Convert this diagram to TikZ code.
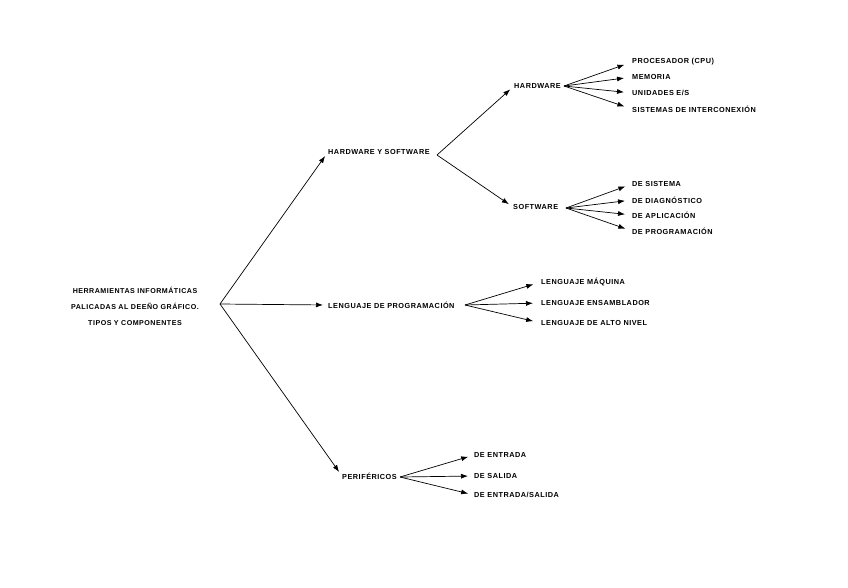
\documentclass[tikz,border=0pt]{standalone}
\usepackage{fontspec}
\setmainfont{Liberation Sans}[LetterSpace=7]
\usetikzlibrary{arrows.meta}
\begin{document}
\begin{tikzpicture}[x=1pt,y=-1pt,
  lbl/.style={anchor=west,inner sep=0pt,font=\fontsize{7.3}{8}\selectfont\bfseries},
  rootlbl/.style={align=center,inner sep=0pt,font=\fontsize{7.1}{16}\selectfont\bfseries},
  arr/.style={draw,line width=0.7pt,-{Latex[length=7pt,width=5pt]},shorten >=5pt}]
\useasboundingbox (0,0) rectangle (848,587);
\fill[white] (0,0) rectangle (848,587);
% root
\node[rootlbl] (root) at (135,306) {HERRAMIENTAS INFORMÁTICAS\\PALICADAS AL DEEÑO GRÁFICO.\\TIPOS Y COMPONENTES};
\coordinate (r0) at (220,304);
% level 1
\node[lbl] (hs) at (328,152) {HARDWARE Y SOFTWARE};
\node[lbl] (lp) at (328,305) {LENGUAJE DE PROGRAMACIÓN};
\node[lbl] (pe) at (342,476) {PERIFÉRICOS};
\draw[arr] (r0) -- (hs.west);
\draw[arr] (r0) -- (lp.west);
\draw[arr] (r0) -- (pe.west);
% hardware y software
\coordinate (h0) at (437,155);
\node[lbl] (hw) at (514,86) {HARDWARE};
\node[lbl] (sw) at (513,207) {SOFTWARE};
\draw[arr] (h0) -- (hw.west);
\draw[arr] (h0) -- (sw.west);
% hardware leaves
\coordinate (hw0) at (564,86);
\node[lbl] (hw1) at (632,62) {PROCESADOR (CPU)};
\node[lbl] (hw2) at (632,77) {MEMORIA};
\node[lbl] (hw3) at (632,93) {UNIDADES E/S};
\node[lbl] (hw4) at (632,109) {SISTEMAS DE INTERCONEXIÓN};
\foreach \n in {hw1,hw2,hw3,hw4} \draw[arr,shorten >=8pt] (hw0) -- (\n.west);
% software leaves
\coordinate (sw0) at (566,208);
\node[lbl] (sw1) at (632,184) {DE SISTEMA};
\node[lbl] (sw2) at (632,200) {DE DIAGNÓSTICO};
\node[lbl] (sw3) at (632,215) {DE APLICACIÓN};
\node[lbl] (sw4) at (632,231) {DE PROGRAMACIÓN};
\foreach \n in {sw1,sw2,sw3,sw4} \draw[arr,shorten >=7pt] (sw0) -- (\n.west);
% lenguaje leaves
\coordinate (lp0) at (465,305);
\node[lbl] (lp1) at (541,282) {LENGUAJE MÁQUINA};
\node[lbl] (lp2) at (541,303) {LENGUAJE ENSAMBLADOR};
\node[lbl] (lp3) at (541,323) {LENGUAJE DE ALTO NIVEL};
\foreach \n in {lp1,lp2,lp3} \draw[arr,shorten >=8pt] (lp0) -- (\n.west);
% perifericos leaves
\coordinate (pe0) at (400,477);
\node[lbl] (pe1) at (474,455) {DE ENTRADA};
\node[lbl] (pe2) at (474,476) {DE SALIDA};
\node[lbl] (pe3) at (474,495) {DE ENTRADA/SALIDA};
\foreach \n in {pe1,pe2,pe3} \draw[arr,shorten >=6pt] (pe0) -- (\n.west);
\end{tikzpicture}
\end{document}
